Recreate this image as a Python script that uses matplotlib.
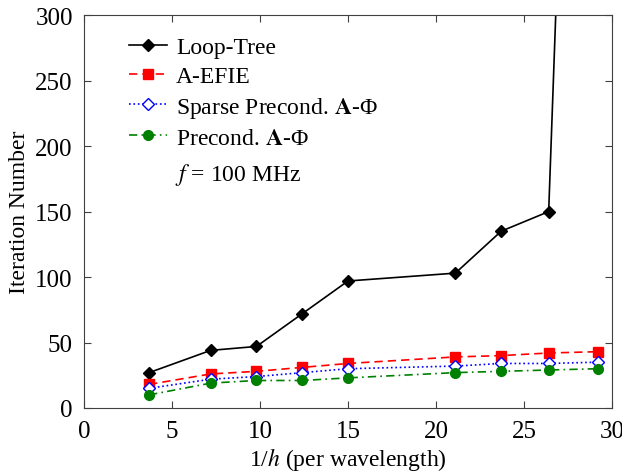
import numpy as np
import matplotlib
matplotlib.use("Agg")
import matplotlib.pyplot as plt

plt.rcParams["font.family"] = ["Liberation Serif", "DejaVu Serif"]
plt.rcParams["mathtext.fontset"] = "stix"

# data
x = [3.7, 7.2, 9.8, 12.4, 15.0, 21.1, 23.7, 26.4, 29.2]
loop_tree = [27, 44, 47, 72, 97, 103, 135, 150, 1200]
a_efie = [18, 26, 28, 31, 34, 39, 40, 42, 43]
sparse_precond = [15, 22, 24, 27, 30, 32, 34, 34, 35]
precond = [10, 19, 21, 21, 23, 27, 28, 29, 30]

fig = plt.figure(figsize=(6.22, 4.77), dpi=100)
ax = fig.add_axes([0.135, 0.1426, 0.849, 0.8234])

ax.plot(x, loop_tree, "k-", marker="D", markersize=6.5, linewidth=1.2, label="Loop-Tree")
ax.plot(x, a_efie, "r", linestyle=(0, (5, 3)), marker="s", markersize=7, linewidth=1.2,
        label="A-EFIE")
ax.plot(x, sparse_precond, color="blue", linestyle=":", marker="D", markersize=6.5,
        markerfacecolor="white", linewidth=1.2, label=r"Sparse Precond. $\mathbf{A}$-Φ")
ax.plot(x, precond, color="green", linestyle=(0, (5, 2.5, 1, 2.5)), marker="o",
        markersize=7, linewidth=1.2, label=r"Precond. $\mathbf{A}$-Φ")

ax.set_xlim(0, 30)
ax.set_ylim(0, 300)
ax.set_xticks(np.arange(0, 31, 5))
ax.set_yticks(np.arange(0, 301, 50))
for s in ax.spines.values():
    s.set_color("#404040")
ax.tick_params(direction="in", top=True, right=True, labelsize=18, length=5,
               color="#404040")
ax.tick_params(axis="x", pad=9)
ax.tick_params(axis="y", pad=8)
ax.set_xlabel(r"1/$h$ (per wavelength)", fontsize=17, labelpad=2)
ax.set_ylabel("Iteration Number", fontsize=17, labelpad=4)

ax.legend(loc="upper left", frameon=False, fontsize=17, handlelength=1.6,
          handletextpad=0.4, bbox_to_anchor=(0.045, 1.0), labelspacing=0.32)
ax.text(0.172, 0.595, r"$f$ = 100 MHz", transform=ax.transAxes, fontsize=17,
        va="center")

fig.savefig("out.png", dpi=100)
